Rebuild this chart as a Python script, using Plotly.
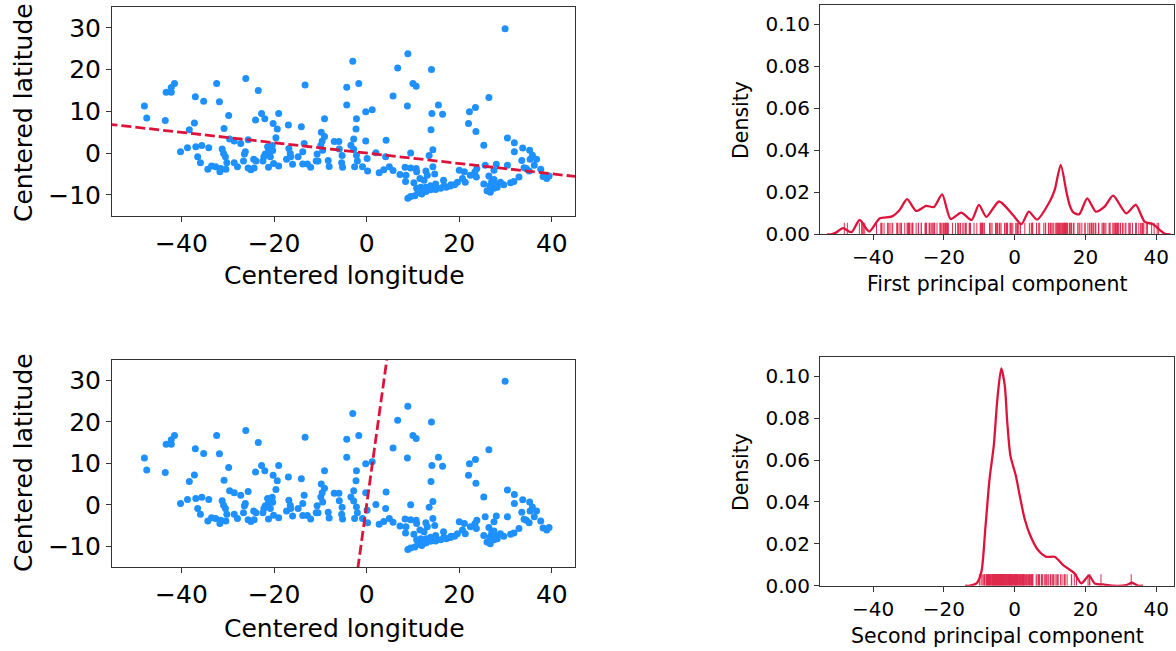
import numpy as np
import plotly.graph_objects as go

# ---------------- data ----------------
centered_lon = [
    -41.5, -42.2, -42.2, -43.3, -32.4, -37.0, -35.2, -31.8, -48.0, -47.5, -43.5, -37.2, -29.8, -38.3, -30.8,
    -40.2, -38.7, -36.9, -35.6, -34.1, -31.2, -30.9, -30.5, -36.5, -35.9, -30.2, -34.3, -33.5, -32.6, -31.7,
    -31.5, -30.4, -29.6,
    -26.1, -23.4, -13.3, -4.3, -4.3, -22.7, -24.0, -22.0, -19.0, -20.2, -19.3, -16.9, -14.1, -9.1, -9.8,
    -9.1, -19.6, -25.6, -13.5, -9.6, -9.9, -7.0, -6.0, -27.2, -28.6, -21.4, -20.4, -21.2, -21.9, -20.3,
    -16.8, -16.5, -13.8, -10.7, -9.5, -5.9, -26.2, -26.4, -22.2, -20.8, -16.4, -14.8, -5.3, -28.6, -27.9,
    -26.6, -24.4, -23.9, -22.4, -21.2, -20.1, -19.0, -17.3, -16.0, -13.8, -12.8, -12.1, -10.9, -10.5, -8.3,
    -8.1, -5.4, -5.2, -25.6, -25.0, -24.3,
    -3.0, 8.9, 6.7, 14.0, -1.7, 10.0, 10.7, 5.7, -0.2, 1.2, 8.8, 15.5, 14.1, 16.4, -2.2, -2.3, 13.9, -2.8,
    -0.2, 4.2, -3.4, -2.8, -2.2, 2.0, 4.1, 9.5, 13.5, 14.3, -2.0, 0.1, -2.6, -0.9, 0.2, 2.7, 3.7, 4.9, 5.7,
    7.2, 8.3, 9.5, 10.7, 8.5, 10.8, 12.8, 13.1, 14.3, 14.7, 8.4, 10.2, 11.5, 12.4, 10.8, 11.7, 12.8, 13.8,
    14.9, 16.6, 16.7, 18.2, 19.6, 20.7, 20.0, 8.9, 9.5, 10.4, 11.1, 11.9, 12.8, 13.8, 14.9, 16.0, 17.2,
    18.1, 19.0, 11.2, 12.1,
    29.9, 26.4, 22.2, 23.5, 22.0, 23.6, 25.3, 30.4, 31.9, 31.9, 33.7, 35.2, 35.8, 33.5, 35.3, 36.7, 36.2,
    37.6, 34.5, 35.1, 34.0, 38.1, 38.9, 39.4, 30.4, 28.0, 25.6, 27.5, 23.8, 23.4, 23.7, 22.4, 21.1, 21.3,
    25.3, 26.0, 26.7, 27.5, 28.2, 28.9, 29.6, 31.1, 31.8, 32.9, 26.6, 27.0, 27.5, 27.8, 26.4,
]
centered_lat = [
    16.7, 15.7, 14.6, 14.6, 16.7, 13.5, 12.4, 12.3, 11.3, 8.4, 7.8, 7.2, 9.0, 5.6, 5.9,
    0.3, 1.3, 1.5, 1.8, 1.3, 1.0, -0.1, -0.9, -0.9, -2.3, -2.3, -3.9, -3.1, -3.3, -4.5,
    -3.7, -3.9, 3.4,
    17.9, 15.0, 16.3, 15.8, 11.5, 9.5, 7.9, 8.2, 9.5, 7.1, 5.8, 6.7, 6.3, 8.2, 5.0,
    4.0, 3.7, 3.2, 2.3, 2.9, 1.9, 2.8, 2.8, 2.3, 2.9, 1.5, 1.8, 0.3, -0.2, 0.6,
    1.1, -0.1, 0.3, -0.2, 0.7, 1.0, 0.3, -0.2, -0.9, -0.9, -0.9, -0.9, -0.6, -2.3, -3.3,
    -1.9, -1.5, -1.9, -1.9, -3.4, -2.5, -3.1, -1.5, -2.7, -2.6, -2.6, -3.4, -1.9, -1.9, -1.8,
    -3.2, -2.3, -3.4, -3.6, -4.0, -3.6,
    22.0, 23.8, 20.4, 20.0, 16.7, 16.7, 16.0, 13.7, 9.9, 10.4, 11.3, 11.5, 9.5, 9.3, 8.2, 5.8, 5.6, 3.4,
    2.9, 3.1, 1.9, 0.9, -0.5, 0.1, -0.9, 0.0, -0.6, 0.8, -1.9, -1.3, -3.3, -3.3, -4.3, -4.7, -4.0, -3.3, -4.2,
    -5.1, -3.4, -3.6, -3.7, -5.3, -4.5, -4.3, -5.3, -3.3, -5.0, -6.8, -7.1, -6.1, -6.5, -8.4, -8.2, -8.2, -7.8,
    -7.4, -6.5, -7.8, -7.6, -7.0, -6.1, -4.1, -10.8, -10.4, -10.2, -9.5, -9.8, -9.2, -8.8, -8.7, -8.4, -8.2,
    -7.9, -7.6, -8.7, -8.8,
    29.8, 13.3, 9.9, 10.9, 7.1, 5.2, 1.9, 3.6, 2.5, 0.3, 1.2, 0.7, -0.5, -1.8, -1.5, -1.5, -2.9,
    -3.9, -3.7, -4.3, -3.5, -5.6, -6.1, -5.5, -2.9, -2.7, -2.9, -4.1, -3.7, -4.5, -5.7, -5.3, -4.5, -7.0,
    -7.4, -9.0, -9.4, -8.4, -8.2, -7.0, -7.6, -7.1, -6.8, -5.7, -7.8, -6.8, -6.3, -7.6, -5.5,
]

# density curves
kde1_x = [-53, -51.8, -50.5, -48.5, -46.1, -43.8, -41.1, -38.1, -34.8, -32.5, -30.4, -27.8, -25.0, -22.8,
          -20.5, -18.1, -15.1, -12.2, -10.1, -8.0, -4.4, -0.5, 1.9, 4.0, 6.3, 9.9, 11.3, 13.0, 14.6, 15.5,
          16.5, 18.2, 20.5, 22.9, 25.4, 27.8, 31.5, 34.2, 36.7, 39.1, 41.0, 42.4, 44]
kde1_y = [0, 0, 0.0008, 0.0029, 0.0010, 0.0068, 0.0013, 0.0076, 0.0084, 0.0116, 0.0167, 0.0111, 0.0135,
          0.0130, 0.0190, 0.0073, 0.0103, 0.0068, 0.0140, 0.0083, 0.0156, 0.0092, 0.0048, 0.0108, 0.0070,
          0.0156, 0.0211, 0.0330, 0.0203, 0.0140, 0.0105, 0.0095, 0.0171, 0.0108, 0.0132, 0.0184, 0.0100,
          0.0140, 0.0060, 0.0048, 0.0020, 0.0002, 0]
kde2_x = [-14.0, -12.7, -10.8, -9.4, -8.3, -7.1, -5.9, -4.9, -3.8, -2.8, -2.1, -1.2, 0.3, 1.4, 2.8, 4.4,
          6.6, 8.9, 11.3, 13.7, 16.9, 18.8, 21.0, 22.6, 25.0, 27.8, 31.5, 33.1, 34.8, 36.3]
kde2_y = [0, 0, 0.0011, 0.0067, 0.0273, 0.0510, 0.0670, 0.0890, 0.1037, 0.0955, 0.0780, 0.0620, 0.0527,
          0.0432, 0.0320, 0.0240, 0.0170, 0.0138, 0.0138, 0.0098, 0.0059, 0.0011, 0.0048, 0.0011, 0.0006,
          0, 0.0003, 0.0014, 0, 0]

x_ticks_left = [-40, -20, 0, 20, 40]
y_ticks_left = [-10, 0, 10, 20, 30]
y_ticks_right = [0.0, 0.02, 0.04, 0.06, 0.08, 0.10]

# ---------------- derived: principal components ----------------
X = np.column_stack([centered_lon, centered_lat])
mu = X.mean(axis=0)
Xc = X - mu
_, _, Vt = np.linalg.svd(Xc, full_matrices=False)
v1 = Vt[0] if Vt[0][0] > 0 else -Vt[0]
v2 = Vt[1] if Vt[1][1] > 0 else -Vt[1]
pc1 = Xc @ v1
pc2 = Xc @ v2

BLUE = "#1E90FF"
RED = "#DC143C"
FONT = "DejaVu Sans"
W = 1176
REF_H = 651
H = 663                 # viewport height observed in the renderer
SY = H / REF_H          # vertical factor from reference pixels to page pixels

fig = go.Figure()

t = np.array([-120.0, 120.0])
for ax_x, ax_y, v in [("x", "y", v1), ("x3", "y3", v2)]:
    fig.add_trace(go.Scatter(x=centered_lon, y=centered_lat, mode="markers",
                             marker=dict(color=BLUE, size=7, line=dict(width=0)),
                             xaxis=ax_x, yaxis=ax_y, showlegend=False, hoverinfo="skip"))
    fig.add_trace(go.Scatter(x=list(t * v[0]), y=list(t * v[1]), mode="lines",
                             line=dict(color=RED, width=2.8, dash="10px,4px"),
                             xaxis=ax_x, yaxis=ax_y, showlegend=False))

RUG_H = 0.05 * 0.1092
for ax_x, ax_y, proj, kx, ky in [("x2", "y2", pc1, kde1_x, kde1_y), ("x4", "y4", pc2, kde2_x, kde2_y)]:
    rx, ry = [], []
    for p in proj:
        rx += [p, p, None]
        ry += [0, RUG_H, None]
    fig.add_trace(go.Scatter(x=rx, y=ry, mode="lines", line=dict(color=RED, width=1),
                             opacity=0.9, xaxis=ax_x, yaxis=ax_y, showlegend=False))
    fig.add_trace(go.Scatter(x=kx, y=ky, mode="lines",
                             line=dict(color=RED, width=2.3, shape="spline", smoothing=0.7),
                             xaxis=ax_x, yaxis=ax_y, showlegend=False))

def px_x(a, b):
    return [a / W, b / W]

def px_y(top, bottom):
    return [1 - bottom / REF_H, 1 - top / REF_H]

LINE = "#333333"
common_left = dict(showline=True, mirror=True, linecolor=LINE, linewidth=1, ticks="outside",
                   ticklen=5, tickcolor=LINE, showgrid=False, zeroline=False,
                   tickfont=dict(family=FONT, size=25, color="black"))
common_right = dict(showline=True, mirror=True, linecolor=LINE, linewidth=1, ticks="outside",
                    ticklen=5, tickcolor=LINE, showgrid=False, zeroline=False,
                    tickfont=dict(family=FONT, size=20, color="black"))

fig.update_layout(
    width=W, height=H, margin=dict(l=0, r=0, t=0, b=0),
    paper_bgcolor="white", plot_bgcolor="white",
    xaxis=dict(domain=px_x(112, 575), range=[-55, 45], tickvals=x_ticks_left, anchor="y", **common_left),
    yaxis=dict(domain=px_y(7, 215.7), range=[-15, 35], tickvals=y_ticks_left, anchor="x", **common_left),
    xaxis3=dict(domain=px_x(112, 575), range=[-55, 45], tickvals=x_ticks_left, anchor="y3", **common_left),
    yaxis3=dict(domain=px_y(359.7, 567), range=[-15, 35], tickvals=y_ticks_left, anchor="x3", **common_left),
    xaxis2=dict(domain=px_x(820, 1174), range=[-55, 45], tickvals=x_ticks_left, anchor="y2", **common_right),
    yaxis2=dict(domain=px_y(4.7, 234.3), range=[0, 0.1092], tickvals=y_ticks_right, tickformat=".2f",
                anchor="x2", **common_right),
    xaxis4=dict(domain=px_x(820, 1174), range=[-55, 45], tickvals=x_ticks_left, anchor="y4", **common_right),
    yaxis4=dict(domain=px_y(357, 585.7), range=[0, 0.1092], tickvals=y_ticks_right, tickformat=".2f",
                anchor="x4", **common_right),
)

def label(text, x, y, size, angle=0):
    fig.add_annotation(text=text, x=x / W, y=1 - y / REF_H, xref="paper", yref="paper",
                       showarrow=False, textangle=angle, xanchor="center", yanchor="middle",
                       font=dict(family=FONT, size=size, color="black"))

label("Centered longitude", 344, 276, 25)
label("Centered longitude", 344, 628, 25)
label("Centered latitude", 24, 113, 25, -90)
label("Centered latitude", 24, 463, 25, -90)
label("Density", 741, 120, 20.5, -90)
label("Density", 741, 472, 20.5, -90)
label("First principal component", 997, 284, 20.5)
label("Second principal component", 997, 636, 20.5)

# pin the figure to the window's top-left corner so the page is exactly the window size
PIN = ("var d=document.getElementById('{plot_id}');"
       "d.style.position='fixed';d.style.left='0px';d.style.top='0px';"
       "document.documentElement.style.overflow='hidden';"
       "document.body.style.margin='0';document.body.style.overflow='hidden';")
fig.write_html("out.html", config={"displayModeBar": False}, post_script=PIN)
